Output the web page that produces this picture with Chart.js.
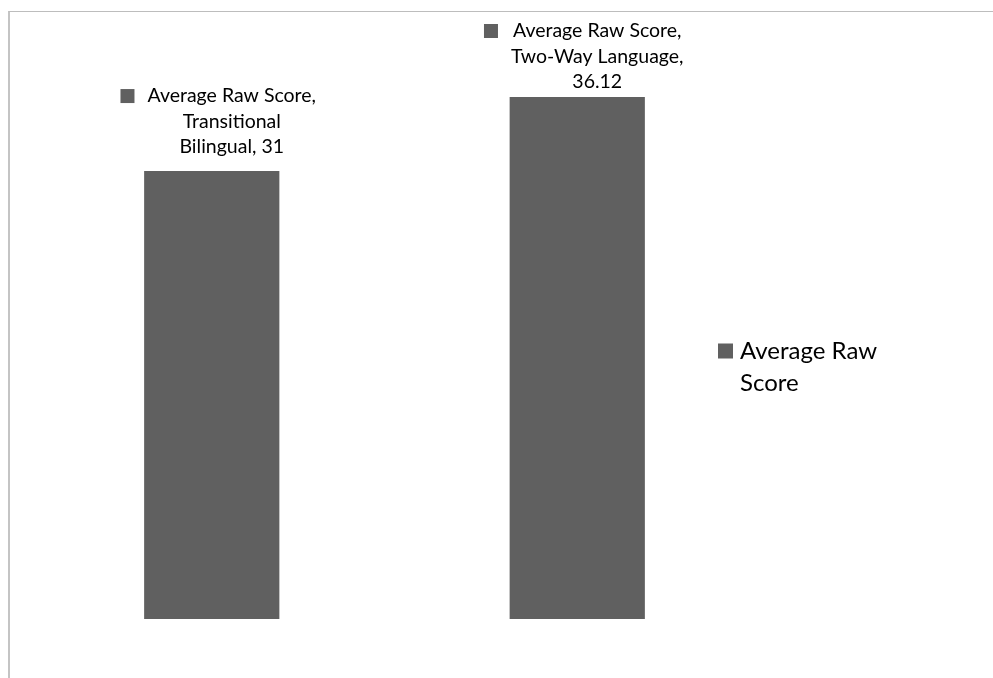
<!DOCTYPE html>
<html>
<head>
<meta charset="utf-8">
<script src="https://cdn.jsdelivr.net/npm/chart.js@4.4.1/dist/chart.umd.min.js"></script>
<style>
  html, body { margin: 0; padding: 0; background: #fff; }
  #wrap { position: relative; width: 993px; height: 678px; }
  #frame {
    position: absolute; left: 8px; top: 11px; right: 0; bottom: 0;
    border-top: 1px solid #bdbdbd; border-left: 2px solid #c4c4c4;
    pointer-events: none;
  }
</style>
</head>
<body>
<div id="wrap">
  <canvas id="graphicScores" width="993" height="678"></canvas>
  <div id="frame"></div>
</div>
<script>
// dados do gráfico
const categories = ["Transitional Bilingual", "Two-Way Language"];
const seriesName = "Average Raw Score";
const scores = [31, 36.12];
// texto dos rótulos (quebrado como no original)
const labelLines = [
  ["Average Raw Score,", "Transitional", "Bilingual, 31"],
  ["Average Raw Score,", "Two-Way Language,", "36.12"]
];
const legendLines = ["Average Raw", "Score"];

const barColor = "#606060";
const textColor = "#000";
const fontFamily = "Lato, 'Open Sans', sans-serif";

// rótulos com o quadradinho da série acima de cada barra
const barLabels = {
  id: "barLabels",
  afterDatasetsDraw(chart) {
    const ctx = chart.ctx;
    const meta = chart.getDatasetMeta(0);
    const lineH = 25.5;
    ctx.save();
    ctx.font = "19.5px " + fontFamily;
    ctx.textAlign = "center";
    ctx.textBaseline = "middle";
    meta.data.forEach((bar, i) => {
      const lines = labelLines[i];
      let lastY = bar.y - 24;
      let firstY = lastY - lineH * (lines.length - 1);
      if (firstY < 31) { firstY = 31; } // não encostar no topo
      const cx = bar.x + 20;
      let maxW = 0;
      ctx.fillStyle = textColor;
      lines.forEach((t, j) => {
        ctx.fillText(t, cx, firstY + j * lineH);
        maxW = Math.max(maxW, ctx.measureText(t).width);
      });
      ctx.fillStyle = barColor;
      ctx.fillRect(cx - maxW / 2 - 13 - 14, firstY - 7, 14, 14);
    });
    ctx.restore();
  }
};

// legenda à direita, com quebra de linha
const sideLegend = {
  id: "sideLegend",
  afterDraw(chart) {
    const ctx = chart.ctx;
    const x = chart.chartArea.right - 20;
    const y = 351;
    ctx.save();
    ctx.fillStyle = chart.data.datasets[0].backgroundColor;
    ctx.fillRect(x - 22, y - 7.5, 15, 15);
    ctx.fillStyle = textColor;
    ctx.font = "24px " + fontFamily;
    ctx.textAlign = "left";
    ctx.textBaseline = "middle";
    legendLines.forEach((t, j) => ctx.fillText(t, x, y + j * 32));
    ctx.restore();
  }
};

function createGraphic() {
  const ctx = document.getElementById("graphicScores").getContext("2d");
  new Chart(ctx, {
    type: "bar",
    data: {
      labels: categories,
      datasets: [
        {
          label: seriesName,
          data: scores,
          backgroundColor: barColor,
          borderWidth: 0,
          categoryPercentage: 1,
          barPercentage: 0.37
        }
      ]
    },
    options: {
      responsive: false,
      animation: false,
      layout: { padding: { left: 29, right: 233, top: 41, bottom: 59 } },
      scales: {
        x: { display: false },
        y: { display: false, min: 0, max: 40 }
      },
      plugins: {
        legend: { display: false },
        tooltip: { enabled: false }
      }
    },
    plugins: [barLabels, sideLegend]
  });
}

window.onload = createGraphic;
</script>
</body>
</html>
